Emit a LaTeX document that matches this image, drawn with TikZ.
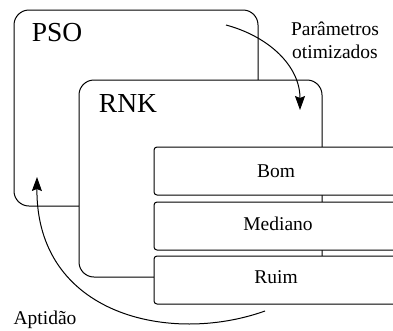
\documentclass[tikz,border=0pt]{standalone}
\usepackage{fontspec}
\setmainfont{Liberation Serif}
\usetikzlibrary{arrows.meta}
\begin{document}
\begin{tikzpicture}[x=1pt,y=-1pt,
  bigbox/.style={draw, line width=1pt, fill=white, rounded corners=15pt, inner sep=0pt, outer sep=0pt, anchor=north west},
  catbox/.style={draw, line width=1pt, fill=white, rounded corners=3pt, inner sep=0pt, outer sep=0pt, anchor=north west, minimum width=280pt, minimum height=48pt},
  bigtxt/.style={font=\fontsize{27.5}{30}\selectfont, inner sep=0pt, anchor=base},
  smalltxt/.style={font=\fontsize{19.5}{23}\selectfont, inner sep=0pt, anchor=base},
  arr/.style={line width=1pt, -{Stealth[length=14pt,width=10pt,inset=2pt]}}]
\useasboundingbox (0,0) rectangle (393,330);
\clip (0,0) rectangle (393,330);
\node[bigbox, minimum width=244pt, minimum height=196pt] (pso) at (14,10) {};
\node[bigtxt] (psol) at (57,41.5) {PSO};
\node[bigbox, minimum width=243pt, minimum height=197pt] (rnk) at (79,80) {};
\node[bigtxt] (rnkl) at (128,112) {RNK};
\node[catbox] (bom) at (154,147) {};
\node[catbox] (med) at (154,202) {};
\node[catbox] (ruim) at (154,256) {};
\node[smalltxt] (boml) at (276,177) {Bom};
\node[smalltxt] (medl) at (278,230) {Mediano};
\node[smalltxt] (ruiml) at (276,283) {Ruim};
\node[smalltxt] (parl1) at (335,35) {Parâmetros};
\node[smalltxt] (parl2) at (335,58) {otimizados};
\node[smalltxt] (aptl) at (45,324) {Aptidão};
\coordinate (a1s) at (226,25);
\coordinate (a1e) at (300,110);
\coordinate (a2s) at (265,311);
\coordinate (a2e) at (37,177);
\coordinate (c1) at (170,345);
\coordinate (c2) at (36,315);
\draw[arr] (a1s) to[out=-15, in=90] (a1e);
\draw[arr] (a2s) .. controls (c1) and (c2) .. (a2e);
\end{tikzpicture}
\end{document}
